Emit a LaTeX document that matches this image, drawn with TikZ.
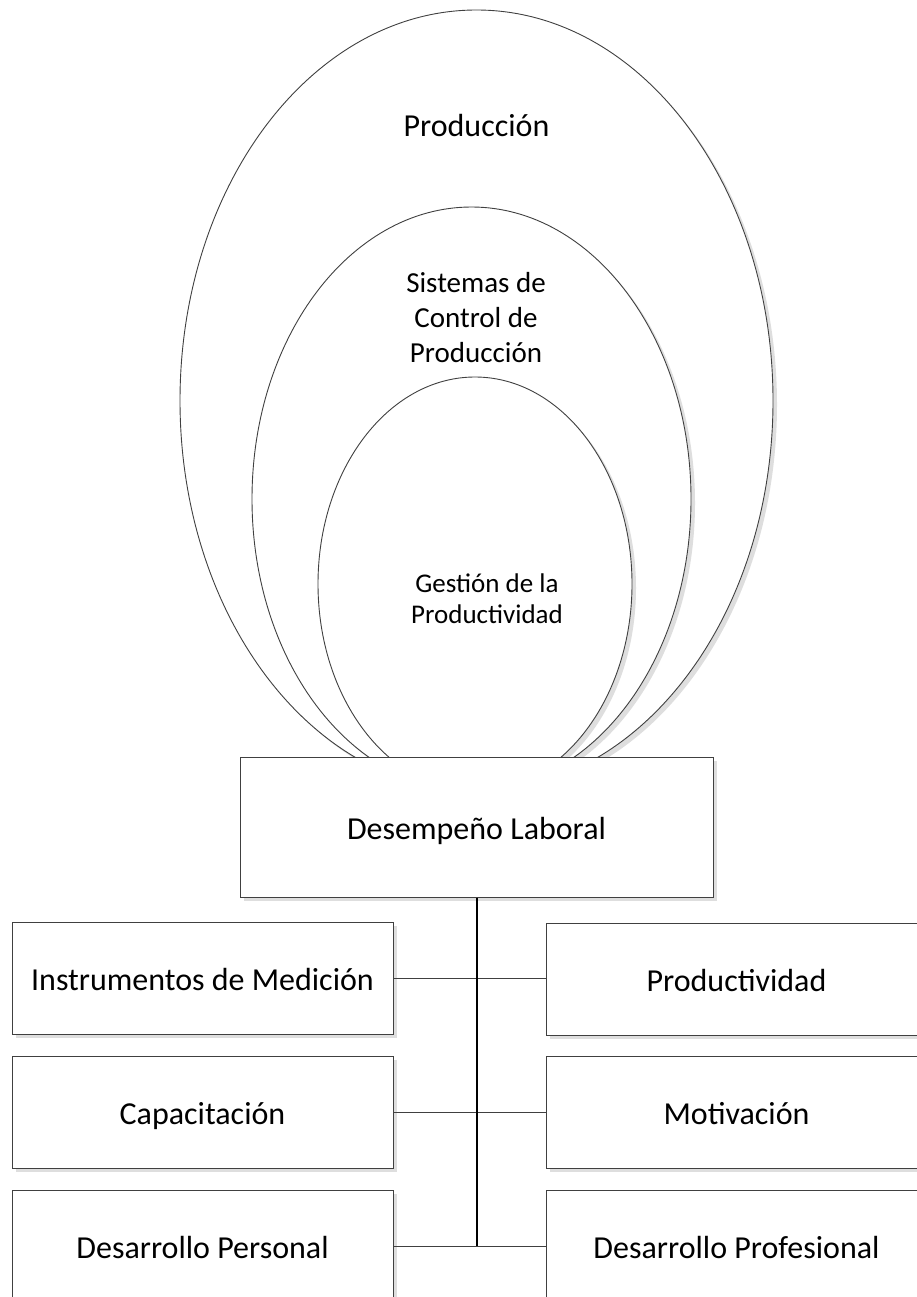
\documentclass[tikz,border=0pt]{standalone}
\usepackage{fontspec}
\setmainfont{Carlito}
\usetikzlibrary{shapes.geometric,shadows}
\definecolor{lineg}{HTML}{404040}
\definecolor{shadowg}{HTML}{DEDEDE}
\tikzset{
  oval/.style={ellipse, draw=lineg, line width=0.9pt, fill=white, inner sep=0pt,
    drop shadow={shadow xshift=4pt, shadow yshift=-4pt, fill=shadowg, opacity=1}},
  box/.style={rectangle, draw=lineg, line width=1pt, fill=white, inner sep=0pt,
    minimum width=381pt, minimum height=112pt, font=\fontsize{32}{38}\selectfont,
    text height=26pt, text depth=2pt,
    drop shadow={shadow xshift=4pt, shadow yshift=-4pt, fill=shadowg, opacity=1}},
  link/.style={draw=lineg, line width=1pt},
  trunk/.style={draw=black, line width=2pt},
  lbl/.style={align=center, inner sep=0pt},
}
\begin{document}
\begin{tikzpicture}[x=1pt, y=-1pt]
\path[use as bounding box] (0,0) rectangle (917,1297);
\clip (0,0) rectangle (917,1297);
% nested ovals
\node[oval, minimum width=593pt, minimum height=781.4pt] (e1) at (476.5,400.7) {};
\node[oval, minimum width=439pt, minimum height=584pt] (e2) at (471.5,499) {};
\node[oval, minimum width=314pt, minimum height=414pt] (e3) at (475,584) {};
\node[lbl, font=\fontsize{32}{38}\selectfont] (t1) at (476.5,126) {Producción};
\node[lbl, font=\fontsize{29}{35}\selectfont] (t2) at (476,318) {Sistemas de\\Control de\\Producción};
\node[lbl, font=\fontsize{27}{31}\selectfont] (t3) at (487,599) {Gestión de la\\Productividad};
% central box
\node[box, minimum width=473pt, minimum height=140pt] (dl) at (476.5,827) {Desempeño Laboral};
% left boxes
\node[box] (l1) at (202.5,978) {Instrumentos de Medición};
\node[box] (l2) at (202.5,1112) {Capacitación};
\node[box] (l3) at (202.5,1246) {Desarrollo Personal};
% right boxes
\node[box] (r1) at (736.5,979) {Productividad};
\node[box] (r2) at (736.5,1112) {Motivación};
\node[box] (r3) at (736.5,1246) {Desarrollo Profesional};
% connectors
\draw[link] (l1.east) -- (r1.west |- l1.east);
\draw[link] (l2.east) -- (r2.west);
\draw[link] (l3.east) -- (r3.west);
\coordinate (j3) at (dl.south |- l3.east);
\draw[trunk] (dl.south) -- (j3);
\end{tikzpicture}
\end{document}
